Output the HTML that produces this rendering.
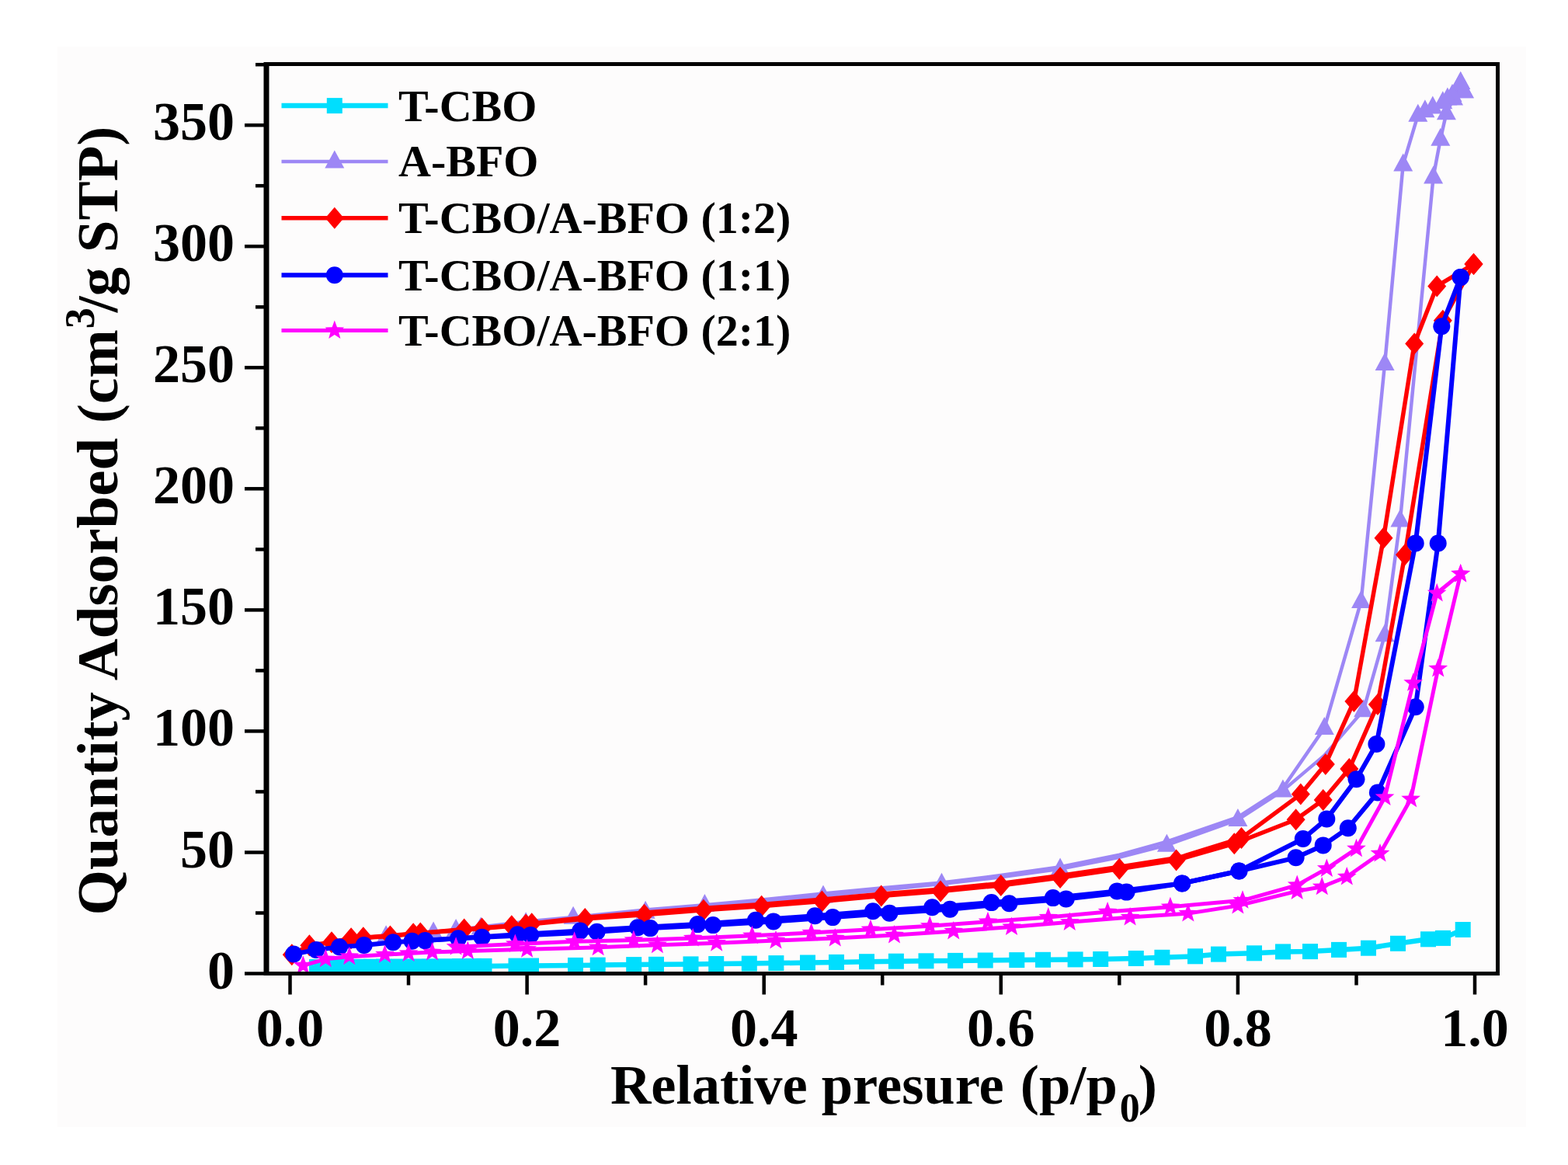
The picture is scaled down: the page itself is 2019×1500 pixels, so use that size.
<!DOCTYPE html>
<html><head><meta charset="utf-8"><style>
html,body{margin:0;padding:0;background:#fff;}
svg{display:block;filter:blur(0.55px);}
.tl{font-family:"Liberation Serif",serif;font-weight:bold;font-size:70px;fill:#000;}
.lg{font-family:"Liberation Serif",serif;font-weight:bold;font-size:57px;fill:#000;}
.at{font-family:"Liberation Serif",serif;font-weight:bold;font-size:70px;fill:#000;}
</style></head><body>
<svg width="2019" height="1500" viewBox="0 0 2019 1500">
<rect x="0" y="0" width="2019" height="1500" fill="#fff"/>
<rect x="74" y="60" width="1891" height="1391" fill="#fdfcfc"/>
<polyline points="408.0,1245.0 420.0,1245.0 432.0,1244.9 446.0,1244.8 462.0,1244.8 478.0,1244.7 494.0,1244.6 513.0,1244.5 533.0,1244.4 553.0,1244.3 573.0,1244.2 592.0,1244.0 610.0,1243.9 623.5,1243.9 664.5,1243.6 684.0,1243.5 741.0,1242.9 769.7,1242.6 816.2,1242.1 845.0,1241.8 889.5,1241.4 922.2,1241.0 964.8,1240.6 999.4,1240.1 1040.0,1239.5 1077.0,1238.9 1116.0,1238.2 1153.9,1237.7 1192.5,1237.3 1230.1,1236.9 1268.7,1236.5 1309.3,1236.1 1343.0,1235.8 1384.6,1235.4 1417.2,1235.0 1462.8,1234.0 1496.4,1232.8 1539.0,1231.3 1569.0,1228.6 1615.0,1227.3 1652.0,1225.4 1687.0,1225.1 1724.0,1222.9 1762.0,1220.7 1800.0,1214.8 1839.0,1209.3 1858.0,1207.9 1883.7,1197.0" fill="none" stroke="#00defe" stroke-width="6.5" stroke-linejoin="round"/>
<rect x="398.0" y="1235.0" width="20" height="20" fill="#00defe"/>
<rect x="410.0" y="1235.0" width="20" height="20" fill="#00defe"/>
<rect x="422.0" y="1234.9" width="20" height="20" fill="#00defe"/>
<rect x="436.0" y="1234.8" width="20" height="20" fill="#00defe"/>
<rect x="452.0" y="1234.8" width="20" height="20" fill="#00defe"/>
<rect x="468.0" y="1234.7" width="20" height="20" fill="#00defe"/>
<rect x="484.0" y="1234.6" width="20" height="20" fill="#00defe"/>
<rect x="503.0" y="1234.5" width="20" height="20" fill="#00defe"/>
<rect x="523.0" y="1234.4" width="20" height="20" fill="#00defe"/>
<rect x="543.0" y="1234.3" width="20" height="20" fill="#00defe"/>
<rect x="563.0" y="1234.2" width="20" height="20" fill="#00defe"/>
<rect x="582.0" y="1234.0" width="20" height="20" fill="#00defe"/>
<rect x="600.0" y="1233.9" width="20" height="20" fill="#00defe"/>
<rect x="613.5" y="1233.9" width="20" height="20" fill="#00defe"/>
<rect x="654.5" y="1233.6" width="20" height="20" fill="#00defe"/>
<rect x="674.0" y="1233.5" width="20" height="20" fill="#00defe"/>
<rect x="731.0" y="1232.9" width="20" height="20" fill="#00defe"/>
<rect x="759.7" y="1232.6" width="20" height="20" fill="#00defe"/>
<rect x="806.2" y="1232.1" width="20" height="20" fill="#00defe"/>
<rect x="835.0" y="1231.8" width="20" height="20" fill="#00defe"/>
<rect x="879.5" y="1231.4" width="20" height="20" fill="#00defe"/>
<rect x="912.2" y="1231.0" width="20" height="20" fill="#00defe"/>
<rect x="954.8" y="1230.6" width="20" height="20" fill="#00defe"/>
<rect x="989.4" y="1230.1" width="20" height="20" fill="#00defe"/>
<rect x="1030.0" y="1229.5" width="20" height="20" fill="#00defe"/>
<rect x="1067.0" y="1228.9" width="20" height="20" fill="#00defe"/>
<rect x="1106.0" y="1228.2" width="20" height="20" fill="#00defe"/>
<rect x="1143.9" y="1227.7" width="20" height="20" fill="#00defe"/>
<rect x="1182.5" y="1227.3" width="20" height="20" fill="#00defe"/>
<rect x="1220.1" y="1226.9" width="20" height="20" fill="#00defe"/>
<rect x="1258.7" y="1226.5" width="20" height="20" fill="#00defe"/>
<rect x="1299.3" y="1226.1" width="20" height="20" fill="#00defe"/>
<rect x="1333.0" y="1225.8" width="20" height="20" fill="#00defe"/>
<rect x="1374.6" y="1225.4" width="20" height="20" fill="#00defe"/>
<rect x="1407.2" y="1225.0" width="20" height="20" fill="#00defe"/>
<rect x="1452.8" y="1224.0" width="20" height="20" fill="#00defe"/>
<rect x="1486.4" y="1222.8" width="20" height="20" fill="#00defe"/>
<rect x="1529.0" y="1221.3" width="20" height="20" fill="#00defe"/>
<rect x="1559.0" y="1218.6" width="20" height="20" fill="#00defe"/>
<rect x="1605.0" y="1217.3" width="20" height="20" fill="#00defe"/>
<rect x="1642.0" y="1215.4" width="20" height="20" fill="#00defe"/>
<rect x="1677.0" y="1215.1" width="20" height="20" fill="#00defe"/>
<rect x="1714.0" y="1212.9" width="20" height="20" fill="#00defe"/>
<rect x="1752.0" y="1210.7" width="20" height="20" fill="#00defe"/>
<rect x="1790.0" y="1204.8" width="20" height="20" fill="#00defe"/>
<rect x="1829.0" y="1199.3" width="20" height="20" fill="#00defe"/>
<rect x="1848.0" y="1197.9" width="20" height="20" fill="#00defe"/>
<rect x="1873.7" y="1187.0" width="20" height="20" fill="#00defe"/>
<polyline points="381.1,1227.0 404.0,1217.6 434.5,1212.9 465.0,1208.2 497.1,1205.4 558.1,1200.8 619.1,1194.8 677.1,1188.6 754.9,1180.2 831.1,1173.9 907.4,1167.7 983.7,1161.1 1060.0,1153.6 1136.2,1145.8 1212.5,1138.0 1288.8,1129.3 1365.1,1118.7 1441.3,1103.7 1502.4,1088.1 1593.9,1055.3 1651.9,1017.9 1705.3,972.6 1755.6,914.6 1783.1,817.5 1802.9,669.9 1845.6,227.7 1854.8,179.0 1862.4,145.6 1871.5,126.9 1880.7,106.3 1885.3,117.5" fill="none" stroke="#9d87f5" stroke-width="4.5" stroke-linejoin="round"/>
<polyline points="1885.3,117.5 1880.7,106.3 1870.0,122.2 1863.9,126.9 1857.8,131.6 1844.8,137.8 1834.9,142.5 1825.8,148.1 1806.7,211.8 1783.1,468.3 1752.6,774.1 1705.3,937.4 1651.9,1014.8 1593.9,1052.2 1502.4,1083.7 1441.3,1100.6 1365.1,1116.2 1288.8,1127.1 1212.5,1136.5 1136.2,1143.3 1060.0,1150.5 983.7,1158.3 907.4,1165.2 831.1,1171.4 738.1,1181.1 678.6,1186.4 587.1,1197.3" fill="none" stroke="#9d87f5" stroke-width="4.5" stroke-linejoin="round"/>
<polygon points="497.1,1191.2 484.6,1214.2 509.6,1214.2" fill="#9d87f5"/>
<polygon points="558.1,1186.5 545.6,1209.5 570.6,1209.5" fill="#9d87f5"/>
<polygon points="619.1,1180.6 606.6,1203.6 631.6,1203.6" fill="#9d87f5"/>
<polygon points="677.1,1174.3 664.6,1197.3 689.6,1197.3" fill="#9d87f5"/>
<polygon points="831.1,1159.7 818.6,1182.7 843.6,1182.7" fill="#9d87f5"/>
<polygon points="1060.0,1139.4 1047.5,1162.4 1072.5,1162.4" fill="#9d87f5"/>
<polygon points="1212.5,1123.8 1200.0,1146.8 1225.0,1146.8" fill="#9d87f5"/>
<polygon points="1365.1,1104.4 1352.6,1127.4 1377.6,1127.4" fill="#9d87f5"/>
<polygon points="1502.4,1073.8 1489.9,1096.8 1514.9,1096.8" fill="#9d87f5"/>
<polygon points="1593.9,1041.1 1581.4,1064.1 1606.4,1064.1" fill="#9d87f5"/>
<polygon points="1651.9,1003.6 1639.4,1026.6 1664.4,1026.6" fill="#9d87f5"/>
<polygon points="1755.6,900.3 1743.1,923.3 1768.1,923.3" fill="#9d87f5"/>
<polygon points="1783.1,803.3 1770.6,826.3 1795.6,826.3" fill="#9d87f5"/>
<polygon points="1802.9,655.6 1790.4,678.6 1815.4,678.6" fill="#9d87f5"/>
<polygon points="1845.6,213.4 1833.1,236.4 1858.1,236.4" fill="#9d87f5"/>
<polygon points="1854.8,164.7 1842.3,187.7 1867.3,187.7" fill="#9d87f5"/>
<polygon points="1862.4,131.3 1849.9,154.3 1874.9,154.3" fill="#9d87f5"/>
<polygon points="1871.5,112.6 1859.0,135.6 1884.0,135.6" fill="#9d87f5"/>
<polygon points="1880.7,92.0 1868.2,115.0 1893.2,115.0" fill="#9d87f5"/>
<polygon points="1885.3,103.2 1872.8,126.2 1897.8,126.2" fill="#9d87f5"/>
<polygon points="1885.3,103.2 1872.8,126.2 1897.8,126.2" fill="#9d87f5"/>
<polygon points="1880.7,92.0 1868.2,115.0 1893.2,115.0" fill="#9d87f5"/>
<polygon points="1870.0,107.9 1857.5,130.9 1882.5,130.9" fill="#9d87f5"/>
<polygon points="1863.9,112.6 1851.4,135.6 1876.4,135.6" fill="#9d87f5"/>
<polygon points="1857.8,117.3 1845.3,140.3 1870.3,140.3" fill="#9d87f5"/>
<polygon points="1844.8,123.5 1832.3,146.5 1857.3,146.5" fill="#9d87f5"/>
<polygon points="1834.9,128.2 1822.4,151.2 1847.4,151.2" fill="#9d87f5"/>
<polygon points="1825.8,133.8 1813.3,156.8 1838.3,156.8" fill="#9d87f5"/>
<polygon points="1806.7,197.5 1794.2,220.5 1819.2,220.5" fill="#9d87f5"/>
<polygon points="1783.1,454.0 1770.6,477.0 1795.6,477.0" fill="#9d87f5"/>
<polygon points="1752.6,759.9 1740.1,782.9 1765.1,782.9" fill="#9d87f5"/>
<polygon points="1705.3,923.1 1692.8,946.1 1717.8,946.1" fill="#9d87f5"/>
<polygon points="907.4,1150.9 894.9,1173.9 919.9,1173.9" fill="#9d87f5"/>
<polygon points="738.1,1166.8 725.6,1189.8 750.6,1189.8" fill="#9d87f5"/>
<polygon points="587.1,1183.1 574.6,1206.1 599.6,1206.1" fill="#9d87f5"/>
<polyline points="375.8,1229.2 398.4,1217.3 427.0,1213.2 452.1,1208.2 502.4,1205.4 532.2,1202.3 597.7,1196.4 677.1,1190.5 753.3,1183.0 829.6,1177.7 905.9,1171.7 980.6,1166.7 1058.4,1160.5 1134.7,1153.6 1211.0,1147.4 1288.8,1139.9 1365.1,1129.9 1441.3,1118.7 1514.6,1107.4 1589.3,1086.2 1668.6,1055.3 1703.7,1030.0 1737.3,990.1 1773.9,907.1 1809.0,714.2 1857.8,412.7 1897.5,340.0" fill="none" stroke="#ff0000" stroke-width="5.5" stroke-linejoin="round"/>
<polyline points="1897.5,340.0 1850.2,368.4 1821.2,442.4 1781.5,692.7 1743.4,903.0 1706.8,983.9 1674.8,1022.6 1598.5,1079.0 1517.6,1104.3 1441.3,1116.2 1365.1,1127.4 1288.8,1137.4 1212.5,1144.9 1136.2,1151.1 1060.0,1158.0 983.7,1164.2 907.4,1169.2 831.1,1174.9 754.9,1181.1 684.7,1189.2 658.8,1192.3 620.6,1195.5 541.3,1201.4 467.8,1207.3" fill="none" stroke="#ff0000" stroke-width="5.5" stroke-linejoin="round"/>
<polygon points="375.8,1215.2 387.8,1229.2 375.8,1243.2 363.8,1229.2" fill="#ff0000"/>
<polygon points="398.4,1203.3 410.4,1217.3 398.4,1231.3 386.4,1217.3" fill="#ff0000"/>
<polygon points="427.0,1199.2 439.0,1213.2 427.0,1227.2 415.0,1213.2" fill="#ff0000"/>
<polygon points="452.1,1194.2 464.1,1208.2 452.1,1222.2 440.1,1208.2" fill="#ff0000"/>
<polygon points="502.4,1191.4 514.4,1205.4 502.4,1219.4 490.4,1205.4" fill="#ff0000"/>
<polygon points="532.2,1188.3 544.2,1202.3 532.2,1216.3 520.2,1202.3" fill="#ff0000"/>
<polygon points="597.7,1182.4 609.7,1196.4 597.7,1210.4 585.7,1196.4" fill="#ff0000"/>
<polygon points="677.1,1176.5 689.1,1190.5 677.1,1204.5 665.1,1190.5" fill="#ff0000"/>
<polygon points="753.3,1169.0 765.3,1183.0 753.3,1197.0 741.3,1183.0" fill="#ff0000"/>
<polygon points="829.6,1163.7 841.6,1177.7 829.6,1191.7 817.6,1177.7" fill="#ff0000"/>
<polygon points="905.9,1157.7 917.9,1171.7 905.9,1185.7 893.9,1171.7" fill="#ff0000"/>
<polygon points="980.6,1152.7 992.6,1166.7 980.6,1180.7 968.6,1166.7" fill="#ff0000"/>
<polygon points="1058.4,1146.5 1070.4,1160.5 1058.4,1174.5 1046.4,1160.5" fill="#ff0000"/>
<polygon points="1134.7,1139.6 1146.7,1153.6 1134.7,1167.6 1122.7,1153.6" fill="#ff0000"/>
<polygon points="1211.0,1133.4 1223.0,1147.4 1211.0,1161.4 1199.0,1147.4" fill="#ff0000"/>
<polygon points="1288.8,1125.9 1300.8,1139.9 1288.8,1153.9 1276.8,1139.9" fill="#ff0000"/>
<polygon points="1365.1,1115.9 1377.1,1129.9 1365.1,1143.9 1353.1,1129.9" fill="#ff0000"/>
<polygon points="1441.3,1104.7 1453.3,1118.7 1441.3,1132.7 1429.3,1118.7" fill="#ff0000"/>
<polygon points="1514.6,1093.4 1526.6,1107.4 1514.6,1121.4 1502.6,1107.4" fill="#ff0000"/>
<polygon points="1589.3,1072.2 1601.3,1086.2 1589.3,1100.2 1577.3,1086.2" fill="#ff0000"/>
<polygon points="1668.6,1041.3 1680.6,1055.3 1668.6,1069.3 1656.6,1055.3" fill="#ff0000"/>
<polygon points="1703.7,1016.0 1715.7,1030.0 1703.7,1044.0 1691.7,1030.0" fill="#ff0000"/>
<polygon points="1737.3,976.1 1749.3,990.1 1737.3,1004.1 1725.3,990.1" fill="#ff0000"/>
<polygon points="1773.9,893.1 1785.9,907.1 1773.9,921.1 1761.9,907.1" fill="#ff0000"/>
<polygon points="1809.0,700.2 1821.0,714.2 1809.0,728.2 1797.0,714.2" fill="#ff0000"/>
<polygon points="1857.8,398.7 1869.8,412.7 1857.8,426.7 1845.8,412.7" fill="#ff0000"/>
<polygon points="1897.5,326.0 1909.5,340.0 1897.5,354.0 1885.5,340.0" fill="#ff0000"/>
<polygon points="1897.5,326.0 1909.5,340.0 1897.5,354.0 1885.5,340.0" fill="#ff0000"/>
<polygon points="1850.2,354.4 1862.2,368.4 1850.2,382.4 1838.2,368.4" fill="#ff0000"/>
<polygon points="1821.2,428.4 1833.2,442.4 1821.2,456.4 1809.2,442.4" fill="#ff0000"/>
<polygon points="1781.5,678.7 1793.5,692.7 1781.5,706.7 1769.5,692.7" fill="#ff0000"/>
<polygon points="1743.4,889.0 1755.4,903.0 1743.4,917.0 1731.4,903.0" fill="#ff0000"/>
<polygon points="1706.8,969.9 1718.8,983.9 1706.8,997.9 1694.8,983.9" fill="#ff0000"/>
<polygon points="1674.8,1008.6 1686.8,1022.6 1674.8,1036.6 1662.8,1022.6" fill="#ff0000"/>
<polygon points="1598.5,1065.0 1610.5,1079.0 1598.5,1093.0 1586.5,1079.0" fill="#ff0000"/>
<polygon points="684.7,1175.2 696.7,1189.2 684.7,1203.2 672.7,1189.2" fill="#ff0000"/>
<polygon points="658.8,1178.3 670.8,1192.3 658.8,1206.3 646.8,1192.3" fill="#ff0000"/>
<polygon points="620.6,1181.5 632.6,1195.5 620.6,1209.5 608.6,1195.5" fill="#ff0000"/>
<polygon points="541.3,1187.4 553.3,1201.4 541.3,1215.4 529.3,1201.4" fill="#ff0000"/>
<polygon points="467.8,1193.3 479.8,1207.3 467.8,1221.3 455.8,1207.3" fill="#ff0000"/>
<polyline points="378.1,1228.5 407.1,1222.9 437.0,1219.2 468.7,1217.0 506.2,1213.2 530.6,1211.7 590.1,1208.2 620.6,1206.7 683.2,1203.9 768.6,1199.8 837.3,1195.1 918.1,1191.1 995.9,1186.4 1072.2,1181.1 1145.4,1175.8 1223.2,1170.8 1299.5,1163.3 1372.7,1157.4 1450.5,1148.6 1522.2,1137.4 1595.4,1121.5 1668.6,1104.3 1703.7,1088.4 1735.8,1066.2 1773.9,1020.4 1822.7,910.2 1851.7,699.5 1880.7,356.9" fill="none" stroke="#0000ff" stroke-width="6" stroke-linejoin="round"/>
<polyline points="1880.7,356.9 1856.3,420.2 1822.7,699.5 1772.4,958.0 1746.5,1003.2 1708.3,1054.4 1677.8,1080.0 1595.4,1121.5 1522.2,1137.4 1438.3,1147.4 1355.9,1156.1 1276.6,1162.1 1200.3,1168.3 1124.0,1173.3 1049.3,1179.2 973.0,1184.8 898.3,1190.1 821.2,1194.2 747.2,1198.6 666.4,1203.3 547.4,1211.1" fill="none" stroke="#0000ff" stroke-width="6" stroke-linejoin="round"/>
<circle cx="378.1" cy="1228.5" r="11.0" fill="#0000ff"/>
<circle cx="407.1" cy="1222.9" r="11.0" fill="#0000ff"/>
<circle cx="437.0" cy="1219.2" r="11.0" fill="#0000ff"/>
<circle cx="468.7" cy="1217.0" r="11.0" fill="#0000ff"/>
<circle cx="506.2" cy="1213.2" r="11.0" fill="#0000ff"/>
<circle cx="530.6" cy="1211.7" r="11.0" fill="#0000ff"/>
<circle cx="590.1" cy="1208.2" r="11.0" fill="#0000ff"/>
<circle cx="620.6" cy="1206.7" r="11.0" fill="#0000ff"/>
<circle cx="683.2" cy="1203.9" r="11.0" fill="#0000ff"/>
<circle cx="768.6" cy="1199.8" r="11.0" fill="#0000ff"/>
<circle cx="837.3" cy="1195.1" r="11.0" fill="#0000ff"/>
<circle cx="918.1" cy="1191.1" r="11.0" fill="#0000ff"/>
<circle cx="995.9" cy="1186.4" r="11.0" fill="#0000ff"/>
<circle cx="1072.2" cy="1181.1" r="11.0" fill="#0000ff"/>
<circle cx="1145.4" cy="1175.8" r="11.0" fill="#0000ff"/>
<circle cx="1223.2" cy="1170.8" r="11.0" fill="#0000ff"/>
<circle cx="1299.5" cy="1163.3" r="11.0" fill="#0000ff"/>
<circle cx="1372.7" cy="1157.4" r="11.0" fill="#0000ff"/>
<circle cx="1450.5" cy="1148.6" r="11.0" fill="#0000ff"/>
<circle cx="1522.2" cy="1137.4" r="11.0" fill="#0000ff"/>
<circle cx="1595.4" cy="1121.5" r="11.0" fill="#0000ff"/>
<circle cx="1668.6" cy="1104.3" r="11.0" fill="#0000ff"/>
<circle cx="1703.7" cy="1088.4" r="11.0" fill="#0000ff"/>
<circle cx="1735.8" cy="1066.2" r="11.0" fill="#0000ff"/>
<circle cx="1773.9" cy="1020.4" r="11.0" fill="#0000ff"/>
<circle cx="1822.7" cy="910.2" r="11.0" fill="#0000ff"/>
<circle cx="1851.7" cy="699.5" r="11.0" fill="#0000ff"/>
<circle cx="1880.7" cy="356.9" r="11.0" fill="#0000ff"/>
<circle cx="1880.7" cy="356.9" r="11.0" fill="#0000ff"/>
<circle cx="1856.3" cy="420.2" r="11.0" fill="#0000ff"/>
<circle cx="1822.7" cy="699.5" r="11.0" fill="#0000ff"/>
<circle cx="1772.4" cy="958.0" r="11.0" fill="#0000ff"/>
<circle cx="1746.5" cy="1003.2" r="11.0" fill="#0000ff"/>
<circle cx="1708.3" cy="1054.4" r="11.0" fill="#0000ff"/>
<circle cx="1677.8" cy="1080.0" r="11.0" fill="#0000ff"/>
<circle cx="1595.4" cy="1121.5" r="11.0" fill="#0000ff"/>
<circle cx="1522.2" cy="1137.4" r="11.0" fill="#0000ff"/>
<circle cx="1438.3" cy="1147.4" r="11.0" fill="#0000ff"/>
<circle cx="1355.9" cy="1156.1" r="11.0" fill="#0000ff"/>
<circle cx="1276.6" cy="1162.1" r="11.0" fill="#0000ff"/>
<circle cx="1200.3" cy="1168.3" r="11.0" fill="#0000ff"/>
<circle cx="1124.0" cy="1173.3" r="11.0" fill="#0000ff"/>
<circle cx="1049.3" cy="1179.2" r="11.0" fill="#0000ff"/>
<circle cx="973.0" cy="1184.8" r="11.0" fill="#0000ff"/>
<circle cx="898.3" cy="1190.1" r="11.0" fill="#0000ff"/>
<circle cx="821.2" cy="1194.2" r="11.0" fill="#0000ff"/>
<circle cx="747.2" cy="1198.6" r="11.0" fill="#0000ff"/>
<circle cx="666.4" cy="1203.3" r="11.0" fill="#0000ff"/>
<circle cx="547.4" cy="1211.1" r="11.0" fill="#0000ff"/>
<polyline points="390.3,1243.2 419.3,1234.8 449.8,1231.7 495.5,1229.2 526.0,1227.6 556.6,1226.0 602.3,1224.5 678.6,1222.3 770.1,1219.8 846.4,1216.7 922.7,1214.2 999.0,1211.1 1075.2,1207.9 1151.5,1203.9 1227.8,1198.9 1302.5,1193.6 1377.3,1187.3 1455.1,1181.1 1529.8,1176.1 1593.9,1166.1 1670.2,1147.4 1702.2,1141.8 1734.2,1129.0 1777.0,1099.0 1816.6,1028.8 1851.7,860.9 1880.7,738.9" fill="none" stroke="#ff00ff" stroke-width="5" stroke-linejoin="round"/>
<polyline points="1880.7,738.9 1850.2,763.8 1819.7,879.3 1783.1,1026.6 1746.5,1092.8 1708.3,1118.4 1670.2,1139.6 1600.0,1159.3 1506.9,1167.7 1426.1,1173.9 1349.8,1181.1 1272.0,1186.7 1197.3,1192.3 1121.0,1196.7 1044.7,1201.1 968.4,1204.8 892.2,1207.9 815.9,1210.4 739.6,1212.3 663.3,1215.4 587.1,1219.2" fill="none" stroke="#ff00ff" stroke-width="5" stroke-linejoin="round"/>
<polygon points="390.3,1230.2 393.5,1238.8 402.6,1239.2 395.5,1244.9 397.9,1253.7 390.3,1248.7 382.6,1253.7 385.1,1244.9 377.9,1239.2 387.1,1238.8" fill="#ff00ff"/>
<polygon points="419.3,1221.8 422.5,1230.4 431.6,1230.8 424.5,1236.5 426.9,1245.3 419.3,1240.2 411.6,1245.3 414.1,1236.5 406.9,1230.8 416.1,1230.4" fill="#ff00ff"/>
<polygon points="449.8,1218.7 453.0,1227.2 462.1,1227.6 455.0,1233.3 457.4,1242.2 449.8,1237.1 442.1,1242.2 444.6,1233.3 437.4,1227.6 446.6,1227.2" fill="#ff00ff"/>
<polygon points="495.5,1216.2 498.7,1224.7 507.9,1225.1 500.7,1230.8 503.2,1239.7 495.5,1234.6 487.9,1239.7 490.3,1230.8 483.2,1225.1 492.3,1224.7" fill="#ff00ff"/>
<polygon points="526.0,1214.6 529.3,1223.2 538.4,1223.6 531.2,1229.3 533.7,1238.1 526.0,1233.1 518.4,1238.1 520.9,1229.3 513.7,1223.6 522.8,1223.2" fill="#ff00ff"/>
<polygon points="556.6,1213.0 559.8,1221.6 568.9,1222.0 561.8,1227.7 564.2,1236.6 556.6,1231.5 548.9,1236.6 551.4,1227.7 544.2,1222.0 553.4,1221.6" fill="#ff00ff"/>
<polygon points="602.3,1211.5 605.5,1220.1 614.7,1220.5 607.5,1226.2 610.0,1235.0 602.3,1229.9 594.7,1235.0 597.1,1226.2 590.0,1220.5 599.1,1220.1" fill="#ff00ff"/>
<polygon points="678.6,1209.3 681.8,1217.9 691.0,1218.3 683.8,1224.0 686.2,1232.8 678.6,1227.8 671.0,1232.8 673.4,1224.0 666.2,1218.3 675.4,1217.9" fill="#ff00ff"/>
<polygon points="770.1,1206.8 773.3,1215.4 782.5,1215.8 775.3,1221.5 777.8,1230.3 770.1,1225.3 762.5,1230.3 764.9,1221.5 757.8,1215.8 766.9,1215.4" fill="#ff00ff"/>
<polygon points="846.4,1203.7 849.6,1212.3 858.8,1212.7 851.6,1218.4 854.0,1227.2 846.4,1222.1 838.8,1227.2 841.2,1218.4 834.0,1212.7 843.2,1212.3" fill="#ff00ff"/>
<polygon points="922.7,1201.2 925.9,1209.8 935.0,1210.2 927.9,1215.9 930.3,1224.7 922.7,1219.6 915.0,1224.7 917.5,1215.9 910.3,1210.2 919.5,1209.8" fill="#ff00ff"/>
<polygon points="999.0,1198.1 1002.2,1206.6 1011.3,1207.0 1004.1,1212.7 1006.6,1221.6 999.0,1216.5 991.3,1221.6 993.8,1212.7 986.6,1207.0 995.7,1206.6" fill="#ff00ff"/>
<polygon points="1075.2,1194.9 1078.4,1203.5 1087.6,1203.9 1080.4,1209.6 1082.9,1218.5 1075.2,1213.4 1067.6,1218.5 1070.0,1209.6 1062.9,1203.9 1072.0,1203.5" fill="#ff00ff"/>
<polygon points="1151.5,1190.9 1154.7,1199.5 1163.9,1199.9 1156.7,1205.6 1159.1,1214.4 1151.5,1209.3 1143.9,1214.4 1146.3,1205.6 1139.1,1199.9 1148.3,1199.5" fill="#ff00ff"/>
<polygon points="1227.8,1185.9 1231.0,1194.5 1240.1,1194.9 1233.0,1200.6 1235.4,1209.4 1227.8,1204.3 1220.1,1209.4 1222.6,1200.6 1215.4,1194.9 1224.6,1194.5" fill="#ff00ff"/>
<polygon points="1302.5,1180.6 1305.7,1189.2 1314.9,1189.6 1307.7,1195.3 1310.2,1204.1 1302.5,1199.0 1294.9,1204.1 1297.3,1195.3 1290.2,1189.6 1299.3,1189.2" fill="#ff00ff"/>
<polygon points="1377.3,1174.3 1380.5,1182.9 1389.6,1183.3 1382.5,1189.0 1384.9,1197.9 1377.3,1192.8 1369.6,1197.9 1372.1,1189.0 1364.9,1183.3 1374.1,1182.9" fill="#ff00ff"/>
<polygon points="1455.1,1168.1 1458.3,1176.7 1467.4,1177.1 1460.3,1182.8 1462.7,1191.6 1455.1,1186.6 1447.4,1191.6 1449.9,1182.8 1442.7,1177.1 1451.9,1176.7" fill="#ff00ff"/>
<polygon points="1529.8,1163.1 1533.0,1171.7 1542.2,1172.1 1535.0,1177.8 1537.5,1186.6 1529.8,1181.6 1522.2,1186.6 1524.6,1177.8 1517.5,1172.1 1526.6,1171.7" fill="#ff00ff"/>
<polygon points="1593.9,1153.1 1597.1,1161.7 1606.3,1162.1 1599.1,1167.8 1601.5,1176.6 1593.9,1171.6 1586.3,1176.6 1588.7,1167.8 1581.5,1162.1 1590.7,1161.7" fill="#ff00ff"/>
<polygon points="1670.2,1134.4 1673.4,1143.0 1682.5,1143.4 1675.4,1149.1 1677.8,1157.9 1670.2,1152.9 1662.5,1157.9 1665.0,1149.1 1657.8,1143.4 1667.0,1143.0" fill="#ff00ff"/>
<polygon points="1702.2,1128.8 1705.4,1137.4 1714.6,1137.8 1707.4,1143.5 1709.9,1152.3 1702.2,1147.2 1694.6,1152.3 1697.0,1143.5 1689.8,1137.8 1699.0,1137.4" fill="#ff00ff"/>
<polygon points="1734.2,1116.0 1737.5,1124.6 1746.6,1125.0 1739.4,1130.7 1741.9,1139.5 1734.2,1134.4 1726.6,1139.5 1729.1,1130.7 1721.9,1125.0 1731.0,1124.6" fill="#ff00ff"/>
<polygon points="1777.0,1086.0 1780.2,1094.6 1789.3,1095.0 1782.2,1100.7 1784.6,1109.5 1777.0,1104.5 1769.3,1109.5 1771.8,1100.7 1764.6,1095.0 1773.8,1094.6" fill="#ff00ff"/>
<polygon points="1816.6,1015.8 1819.8,1024.4 1829.0,1024.8 1821.8,1030.5 1824.3,1039.3 1816.6,1034.3 1809.0,1039.3 1811.4,1030.5 1804.3,1024.8 1813.4,1024.4" fill="#ff00ff"/>
<polygon points="1851.7,847.9 1854.9,856.5 1864.1,856.9 1856.9,862.6 1859.4,871.4 1851.7,866.4 1844.1,871.4 1846.5,862.6 1839.3,856.9 1848.5,856.5" fill="#ff00ff"/>
<polygon points="1880.7,725.9 1883.9,734.5 1893.1,734.9 1885.9,740.6 1888.3,749.4 1880.7,744.3 1873.1,749.4 1875.5,740.6 1868.3,734.9 1877.5,734.5" fill="#ff00ff"/>
<polygon points="1880.7,725.9 1883.9,734.5 1893.1,734.9 1885.9,740.6 1888.3,749.4 1880.7,744.3 1873.1,749.4 1875.5,740.6 1868.3,734.9 1877.5,734.5" fill="#ff00ff"/>
<polygon points="1850.2,750.8 1853.4,759.4 1862.5,759.8 1855.4,765.5 1857.8,774.4 1850.2,769.3 1842.5,774.4 1845.0,765.5 1837.8,759.8 1847.0,759.4" fill="#ff00ff"/>
<polygon points="1819.7,866.3 1822.9,874.9 1832.0,875.3 1824.9,881.0 1827.3,889.8 1819.7,884.8 1812.0,889.8 1814.5,881.0 1807.3,875.3 1816.5,874.9" fill="#ff00ff"/>
<polygon points="1783.1,1013.6 1786.3,1022.2 1795.4,1022.6 1788.3,1028.3 1790.7,1037.1 1783.1,1032.1 1775.4,1037.1 1777.9,1028.3 1770.7,1022.6 1779.9,1022.2" fill="#ff00ff"/>
<polygon points="1746.5,1079.8 1749.7,1088.4 1758.8,1088.8 1751.6,1094.5 1754.1,1103.3 1746.5,1098.2 1738.8,1103.3 1741.3,1094.5 1734.1,1088.8 1743.2,1088.4" fill="#ff00ff"/>
<polygon points="1708.3,1105.4 1711.5,1113.9 1720.7,1114.3 1713.5,1120.1 1716.0,1128.9 1708.3,1123.8 1700.7,1128.9 1703.1,1120.1 1695.9,1114.3 1705.1,1113.9" fill="#ff00ff"/>
<polygon points="1670.2,1126.6 1673.4,1135.2 1682.5,1135.6 1675.4,1141.3 1677.8,1150.1 1670.2,1145.0 1662.5,1150.1 1665.0,1141.3 1657.8,1135.6 1667.0,1135.2" fill="#ff00ff"/>
<polygon points="1600.0,1146.3 1603.2,1154.8 1612.4,1155.2 1605.2,1160.9 1607.6,1169.8 1600.0,1164.7 1592.4,1169.8 1594.8,1160.9 1587.6,1155.2 1596.8,1154.8" fill="#ff00ff"/>
<polygon points="1506.9,1154.7 1510.2,1163.3 1519.3,1163.7 1512.1,1169.4 1514.6,1178.2 1506.9,1173.1 1499.3,1178.2 1501.8,1169.4 1494.6,1163.7 1503.7,1163.3" fill="#ff00ff"/>
<polygon points="1426.1,1160.9 1429.3,1169.5 1438.5,1169.9 1431.3,1175.6 1433.7,1184.4 1426.1,1179.4 1418.5,1184.4 1420.9,1175.6 1413.7,1169.9 1422.9,1169.5" fill="#ff00ff"/>
<polygon points="1349.8,1168.1 1353.0,1176.7 1362.2,1177.1 1355.0,1182.8 1357.5,1191.6 1349.8,1186.6 1342.2,1191.6 1344.6,1182.8 1337.5,1177.1 1346.6,1176.7" fill="#ff00ff"/>
<polygon points="1272.0,1173.7 1275.2,1182.3 1284.4,1182.7 1277.2,1188.4 1279.7,1197.2 1272.0,1192.2 1264.4,1197.2 1266.8,1188.4 1259.7,1182.7 1268.8,1182.3" fill="#ff00ff"/>
<polygon points="1197.3,1179.3 1200.5,1187.9 1209.6,1188.3 1202.5,1194.0 1204.9,1202.8 1197.3,1197.8 1189.6,1202.8 1192.1,1194.0 1184.9,1188.3 1194.1,1187.9" fill="#ff00ff"/>
<polygon points="1121.0,1183.7 1124.2,1192.3 1133.4,1192.7 1126.2,1198.4 1128.6,1207.2 1121.0,1202.2 1113.4,1207.2 1115.8,1198.4 1108.6,1192.7 1117.8,1192.3" fill="#ff00ff"/>
<polygon points="1044.7,1188.1 1047.9,1196.7 1057.1,1197.1 1049.9,1202.8 1052.4,1211.6 1044.7,1206.5 1037.1,1211.6 1039.5,1202.8 1032.4,1197.1 1041.5,1196.7" fill="#ff00ff"/>
<polygon points="968.4,1191.8 971.7,1200.4 980.8,1200.8 973.6,1206.5 976.1,1215.3 968.4,1210.3 960.8,1215.3 963.3,1206.5 956.1,1200.8 965.2,1200.4" fill="#ff00ff"/>
<polygon points="892.2,1194.9 895.4,1203.5 904.5,1203.9 897.4,1209.6 899.8,1218.5 892.2,1213.4 884.5,1218.5 887.0,1209.6 879.8,1203.9 889.0,1203.5" fill="#ff00ff"/>
<polygon points="815.9,1197.4 819.1,1206.0 828.3,1206.4 821.1,1212.1 823.5,1220.9 815.9,1215.9 808.3,1220.9 810.7,1212.1 803.5,1206.4 812.7,1206.0" fill="#ff00ff"/>
<polygon points="739.6,1199.3 742.8,1207.9 752.0,1208.3 744.8,1214.0 747.3,1222.8 739.6,1217.8 732.0,1222.8 734.4,1214.0 727.3,1208.3 736.4,1207.9" fill="#ff00ff"/>
<polygon points="663.3,1202.4 666.6,1211.0 675.7,1211.4 668.5,1217.1 671.0,1225.9 663.3,1220.9 655.7,1225.9 658.2,1217.1 651.0,1211.4 660.1,1211.0" fill="#ff00ff"/>
<polygon points="587.1,1206.2 590.3,1214.8 599.4,1215.2 592.3,1220.9 594.7,1229.7 587.1,1224.6 579.4,1229.7 581.9,1220.9 574.7,1215.2 583.9,1214.8" fill="#ff00ff"/>
<rect x="343.0" y="82.5" width="1585.5" height="1171.0" fill="none" stroke="#000" stroke-width="5"/>
<line x1="343.0" y1="80.0" x2="343.0" y2="1256.0" stroke="#000" stroke-width="7"/>
<line x1="315.0" y1="1253.5" x2="343.0" y2="1253.5" stroke="#000" stroke-width="4.5"/>
<line x1="329.0" y1="1175.5" x2="343.0" y2="1175.5" stroke="#000" stroke-width="4.5"/>
<line x1="315.0" y1="1097.5" x2="343.0" y2="1097.5" stroke="#000" stroke-width="4.5"/>
<line x1="329.0" y1="1019.4" x2="343.0" y2="1019.4" stroke="#000" stroke-width="4.5"/>
<line x1="315.0" y1="941.4" x2="343.0" y2="941.4" stroke="#000" stroke-width="4.5"/>
<line x1="329.0" y1="863.4" x2="343.0" y2="863.4" stroke="#000" stroke-width="4.5"/>
<line x1="315.0" y1="785.4" x2="343.0" y2="785.4" stroke="#000" stroke-width="4.5"/>
<line x1="329.0" y1="707.4" x2="343.0" y2="707.4" stroke="#000" stroke-width="4.5"/>
<line x1="315.0" y1="629.3" x2="343.0" y2="629.3" stroke="#000" stroke-width="4.5"/>
<line x1="329.0" y1="551.3" x2="343.0" y2="551.3" stroke="#000" stroke-width="4.5"/>
<line x1="315.0" y1="473.3" x2="343.0" y2="473.3" stroke="#000" stroke-width="4.5"/>
<line x1="329.0" y1="395.3" x2="343.0" y2="395.3" stroke="#000" stroke-width="4.5"/>
<line x1="315.0" y1="317.2" x2="343.0" y2="317.2" stroke="#000" stroke-width="4.5"/>
<line x1="329.0" y1="239.2" x2="343.0" y2="239.2" stroke="#000" stroke-width="4.5"/>
<line x1="315.0" y1="161.2" x2="343.0" y2="161.2" stroke="#000" stroke-width="4.5"/>
<line x1="329.0" y1="83.2" x2="343.0" y2="83.2" stroke="#000" stroke-width="4.5"/>
<line x1="373.5" y1="1253.5" x2="373.5" y2="1280.5" stroke="#000" stroke-width="4.5"/>
<line x1="526.0" y1="1253.5" x2="526.0" y2="1268.5" stroke="#000" stroke-width="4.5"/>
<line x1="678.6" y1="1253.5" x2="678.6" y2="1280.5" stroke="#000" stroke-width="4.5"/>
<line x1="831.1" y1="1253.5" x2="831.1" y2="1268.5" stroke="#000" stroke-width="4.5"/>
<line x1="983.7" y1="1253.5" x2="983.7" y2="1280.5" stroke="#000" stroke-width="4.5"/>
<line x1="1136.2" y1="1253.5" x2="1136.2" y2="1268.5" stroke="#000" stroke-width="4.5"/>
<line x1="1288.8" y1="1253.5" x2="1288.8" y2="1280.5" stroke="#000" stroke-width="4.5"/>
<line x1="1441.3" y1="1253.5" x2="1441.3" y2="1268.5" stroke="#000" stroke-width="4.5"/>
<line x1="1593.9" y1="1253.5" x2="1593.9" y2="1280.5" stroke="#000" stroke-width="4.5"/>
<line x1="1746.5" y1="1253.5" x2="1746.5" y2="1268.5" stroke="#000" stroke-width="4.5"/>
<line x1="1899.0" y1="1253.5" x2="1899.0" y2="1280.5" stroke="#000" stroke-width="4.5"/>
<text x="302" y="1272.5" text-anchor="end" class="tl">0</text>
<text x="302" y="1116.5" text-anchor="end" class="tl">50</text>
<text x="302" y="960.4" text-anchor="end" class="tl">100</text>
<text x="302" y="804.4" text-anchor="end" class="tl">150</text>
<text x="302" y="648.3" text-anchor="end" class="tl">200</text>
<text x="302" y="492.3" text-anchor="end" class="tl">250</text>
<text x="302" y="336.2" text-anchor="end" class="tl">300</text>
<text x="302" y="180.2" text-anchor="end" class="tl">350</text>
<text x="373.5" y="1347" text-anchor="middle" class="tl">0.0</text>
<text x="678.6" y="1347" text-anchor="middle" class="tl">0.2</text>
<text x="983.7" y="1347" text-anchor="middle" class="tl">0.4</text>
<text x="1288.8" y="1347" text-anchor="middle" class="tl">0.6</text>
<text x="1593.9" y="1347" text-anchor="middle" class="tl">0.8</text>
<text x="1899.0" y="1347" text-anchor="middle" class="tl">1.0</text>
<line x1="362.5" y1="136.1" x2="499.5" y2="136.1" stroke="#00defe" stroke-width="6.5"/>
<rect x="420.8" y="126.1" width="20" height="20" fill="#00defe"/>
<text transform="translate(513,155.6) scale(1.018,1)" class="lg">T-CBO</text>
<line x1="362.5" y1="207.9" x2="499.5" y2="207.9" stroke="#9d87f5" stroke-width="4.5"/>
<polygon points="430.8,193.6 418.3,216.6 443.3,216.6" fill="#9d87f5"/>
<text transform="translate(513,227.4) scale(1.018,1)" class="lg">A-BFO</text>
<line x1="362.5" y1="280.7" x2="499.5" y2="280.7" stroke="#ff0000" stroke-width="5.5"/>
<polygon points="430.8,266.7 442.8,280.7 430.8,294.7 418.8,280.7" fill="#ff0000"/>
<text transform="translate(513,300.2) scale(1.018,1)" class="lg">T-CBO/A-BFO (1:2)</text>
<line x1="362.5" y1="354.2" x2="499.5" y2="354.2" stroke="#0000ff" stroke-width="6"/>
<circle cx="430.8" cy="354.2" r="11.0" fill="#0000ff"/>
<text transform="translate(513,373.7) scale(1.018,1)" class="lg">T-CBO/A-BFO (1:1)</text>
<line x1="362.5" y1="425.6" x2="499.5" y2="425.6" stroke="#ff00ff" stroke-width="5"/>
<polygon points="430.8,412.6 434.0,421.2 443.2,421.6 436.0,427.3 438.4,436.1 430.8,431.1 423.2,436.1 425.6,427.3 418.4,421.6 427.6,421.2" fill="#ff00ff"/>
<text transform="translate(513,445.1) scale(1.018,1)" class="lg">T-CBO/A-BFO (2:1)</text>
<text x="786" y="1420.5" class="at" style="font-size:72.5px">Relative presure <tspan dx="3">(p/p</tspan><tspan font-size="52" dy="23.5" dx="3">0</tspan><tspan dy="-23.5" dx="-2">)</tspan></text>
<text transform="translate(151,1178.5) rotate(-90)" class="at" style="font-size:75px">Quantity Adsorbed (cm<tspan font-size="54" dy="-30" dx="1">3</tspan><tspan dy="30" dx="-6">/g STP)</tspan></text>
</svg>
</body></html>
